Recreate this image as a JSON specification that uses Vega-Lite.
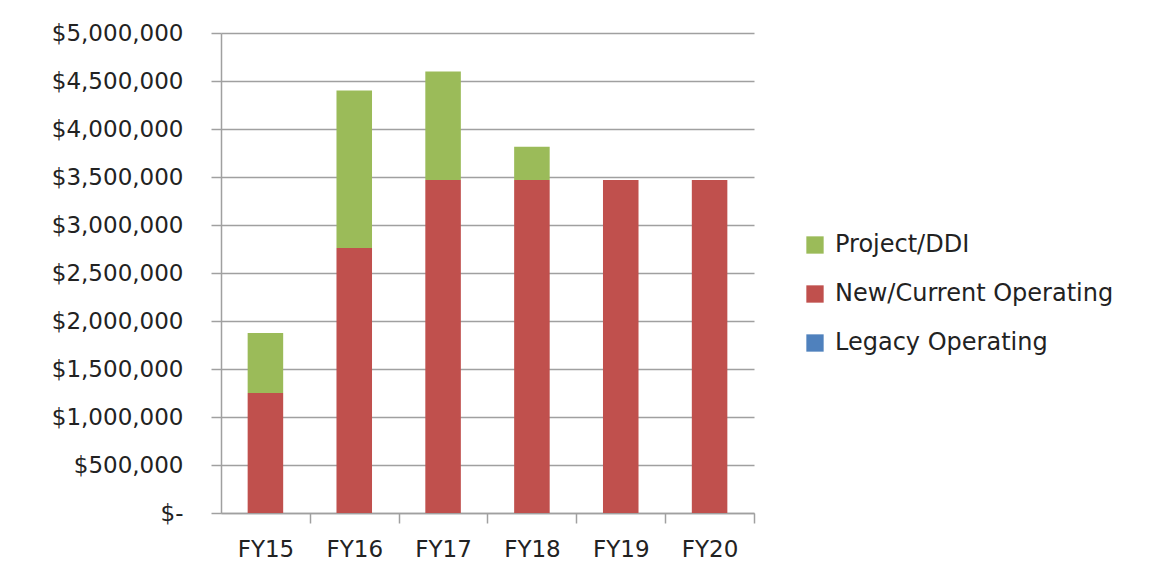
{
  "$schema": "https://vega.github.io/schema/vega-lite/v6.json",
  "width": 533,
  "height": 480,
  "autosize": {"type": "none"},
  "padding": {"left": 221, "top": 33, "right": 414, "bottom": 64},
  "background": "white",
  "data": {
    "values": [
      {"year": "FY15", "series": "Legacy Operating", "amount": 0},
      {"year": "FY15", "series": "New/Current Operating", "amount": 1250000},
      {"year": "FY15", "series": "Project/DDI", "amount": 625000},
      {"year": "FY16", "series": "Legacy Operating", "amount": 0},
      {"year": "FY16", "series": "New/Current Operating", "amount": 2760000},
      {"year": "FY16", "series": "Project/DDI", "amount": 1640000},
      {"year": "FY17", "series": "Legacy Operating", "amount": 0},
      {"year": "FY17", "series": "New/Current Operating", "amount": 3470000},
      {"year": "FY17", "series": "Project/DDI", "amount": 1130000},
      {"year": "FY18", "series": "Legacy Operating", "amount": 0},
      {"year": "FY18", "series": "New/Current Operating", "amount": 3470000},
      {"year": "FY18", "series": "Project/DDI", "amount": 345000},
      {"year": "FY19", "series": "Legacy Operating", "amount": 0},
      {"year": "FY19", "series": "New/Current Operating", "amount": 3470000},
      {"year": "FY19", "series": "Project/DDI", "amount": 0},
      {"year": "FY20", "series": "Legacy Operating", "amount": 0},
      {"year": "FY20", "series": "New/Current Operating", "amount": 3470000},
      {"year": "FY20", "series": "Project/DDI", "amount": 0}
    ]
  },
  "mark": {"type": "bar"},
  "encoding": {
    "x": {
      "field": "year",
      "type": "nominal",
      "scale": {"paddingInner": 0.6, "paddingOuter": 0.3},
      "axis": {
        "title": null,
        "labelAngle": 0,
        "tickOffset": 44.4,
        "labelOffset": -44.4,
        "tickSize": 10,
        "labelPadding": 15,
        "domainColor": "#a0a0a0",
        "tickColor": "#a0a0a0",
        "domainWidth": 1.5,
        "tickWidth": 1.5,
        "labelFont": "DejaVu Sans",
        "labelFontSize": 23,
        "labelColor": "#222222"
      }
    },
    "y": {
      "field": "amount",
      "type": "quantitative",
      "stack": "zero",
      "scale": {"domain": [0, 5000000], "nice": false},
      "axis": {
        "title": null,
        "values": [0, 500000, 1000000, 1500000, 2000000, 2500000, 3000000, 3500000, 4000000, 4500000, 5000000],
        "labelExpr": "datum.value == 0 ? '$-' : '$' + format(datum.value, ',')",
        "tickSize": 10,
        "labelPadding": 28,
        "grid": true,
        "gridColor": "#a0a0a0",
        "gridWidth": 1.5,
        "domainColor": "#a0a0a0",
        "tickColor": "#a0a0a0",
        "domainWidth": 1.5,
        "tickWidth": 1.5,
        "labelFont": "DejaVu Sans",
        "labelFontSize": 23,
        "labelColor": "#222222"
      }
    },
    "color": {
      "field": "series",
      "type": "nominal",
      "scale": {
        "domain": ["Project/DDI", "New/Current Operating", "Legacy Operating"],
        "range": ["#9BBB59", "#C0504D", "#4F81BD"]
      },
      "legend": {
        "title": null,
        "orient": "none",
        "legendX": 582,
        "legendY": 200,
        "symbolType": "square",
        "symbolSize": 300,
        "symbolStrokeWidth": 0,
        "labelFont": "DejaVu Sans",
        "labelFontSize": 24,
        "labelColor": "#222222",
        "labelLimit": 400,
        "rowPadding": 25,
        "labelOffset": 8
      }
    },
    "order": {"field": "series", "sort": "ascending"}
  },
  "config": {
    "view": {"stroke": null}
  }
}
